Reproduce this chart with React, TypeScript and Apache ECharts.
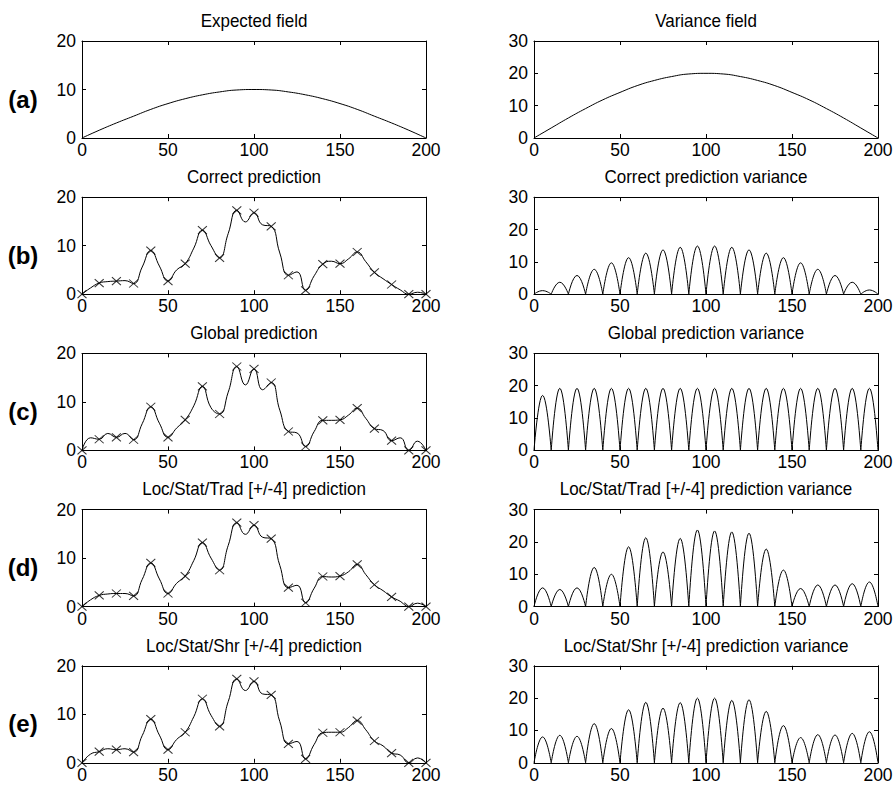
import React, { useEffect, useRef } from 'react';
import * as echarts from 'echarts';

// ---------- data ----------
const obsX = [0, 10, 20, 30, 40, 50, 60, 70, 80, 90, 100, 110, 120, 130, 140, 150, 160, 170, 180, 190, 200];
const midX = [5, 15, 25, 35, 45, 55, 65, 75, 85, 95, 105, 115, 125, 135, 145, 155, 165, 175, 185, 195];

// observed values (x markers), same in all prediction panels
const obsVals = [0, 2.3, 2.7, 2.2, 9.0, 2.7, 6.3, 13.2, 7.5, 17.3, 16.8, 14.0, 3.9, 0.8, 6.2, 6.3, 8.7, 4.5, 2.0, 0.0, 0.0];

// expected field / variance field (at obsX)
const expectedField = [0, 1.6, 3.1, 4.5, 5.9, 7.1, 8.1, 8.9, 9.5, 9.9, 10, 9.9, 9.5, 8.9, 8.1, 7.1, 5.9, 4.5, 3.1, 1.6, 0];
const varianceField = [0, 3.1, 6.2, 9.1, 11.8, 14.1, 16.2, 17.8, 19.0, 19.8, 20, 19.8, 19.0, 17.8, 16.2, 14.1, 11.8, 9.1, 6.2, 3.1, 0];

// prediction curve values at midpoints (midX)
const correctMid = [1.3, 2.6, 2.8, 5.6, 5.8, 5.0, 9.5, 10.0, 12.5, 14.9, 14.3, 8.5, 4.6, 3.8, 6.8, 7.3, 6.7, 3.2, 0.9, 0.4];
const globalMid = [2.6, 3.5, 3.5, 5.5, 5.6, 4.6, 9.2, 8.8, 12.0, 13.5, 12.5, 8.3, 3.6, 3.9, 6.2, 7.3, 6.6, 4.1, 2.6, 1.9];
const tradMid = [1.4, 2.6, 2.7, 5.6, 5.7, 4.8, 9.5, 10.0, 12.6, 14.9, 14.3, 8.5, 4.4, 3.8, 6.1, 7.2, 6.6, 3.3, 1.1, 0.7];
const shrMid = [1.8, 2.9, 2.9, 5.6, 5.7, 4.8, 9.5, 9.8, 12.6, 14.9, 14.2, 8.5, 4.4, 3.8, 6.3, 7.3, 6.8, 3.5, 1.6, 1.0];

// prediction variance peaks at midpoints (zero at observed points)
const correctVarPeaks = [1.1, 3.7, 5.8, 7.7, 9.7, 11.3, 12.7, 13.7, 14.5, 14.9, 14.9, 14.5, 13.7, 12.7, 11.3, 9.7, 7.7, 5.8, 3.7, 1.3];
const globalVarPeaks = [17.0, 19.2, 19.2, 19.2, 19.2, 19.2, 19.2, 19.2, 19.2, 19.2, 19.2, 19.2, 19.2, 19.2, 19.2, 19.2, 19.2, 19.2, 19.2, 19.2];
const tradVarPeaks = [5.8, 5.3, 5.8, 12.1, 10.0, 18.5, 21.3, 16.9, 21.1, 23.7, 23.4, 23.1, 22.7, 17.8, 11.3, 5.6, 6.7, 6.7, 7.1, 7.6];
const shrVarPeaks = [8.0, 8.5, 8.2, 12.1, 10.6, 16.4, 18.7, 16.9, 18.6, 20.0, 20.0, 19.3, 19.5, 15.9, 11.5, 7.8, 8.7, 8.6, 9.1, 9.6];

const panelLabels = ['(a)', '(b)', '(c)', '(d)', '(e)'];
const leftTitles = [
  'Expected field',
  'Correct prediction',
  'Global prediction',
  'Loc/Stat/Trad [+/-4] prediction',
  'Loc/Stat/Shr [+/-4] prediction',
];
const rightTitles = [
  'Variance field',
  'Correct prediction variance',
  'Global prediction variance',
  'Loc/Stat/Trad [+/-4] prediction variance',
  'Loc/Stat/Shr [+/-4] prediction variance',
];
const leftYMax = 20;
const rightYMax = 30;
const xMax = 200;

// ---------- layout ----------
const TOPS = [41, 197.2, 353.4, 509.6, 665.8];
const H = 97;
const LEFTS = [82, 534];
const W = 344;
const FONT = "'Liberation Sans', Arial, Helvetica, sans-serif";
const X_SYMBOL = 'path://M0,0L10,10M10,0L0,10';

function curveData(mids: number[]) {
  const d: (number | string)[][] = [];
  for (let i = 0; i < midX.length; i++) {
    d.push([obsX[i], obsVals[i]]);
    d.push([midX[i], mids[i]]);
  }
  d.push([obsX[obsX.length - 1], obsVals[obsVals.length - 1]]);
  return d;
}

function fieldData(vals: number[]) {
  return obsX.map((x, i) => [x, vals[i]]);
}

function archData(peaks: number[]) {
  const d: (number | string)[][] = [];
  for (let i = 0; i < peaks.length; i++) {
    d.push([obsX[i], 0], [midX[i], peaks[i]], [obsX[i + 1], 0], [obsX[i + 1], '-']);
  }
  return d;
}

function buildOption() {
  const grid: any[] = [];
  const xAxis: any[] = [];
  const yAxis: any[] = [];
  const series: any[] = [];
  const graphic: any[] = [];

  const leftData = [
    { line: fieldData(expectedField), marks: false },
    { line: curveData(correctMid), marks: true },
    { line: curveData(globalMid), marks: true },
    { line: curveData(tradMid), marks: true },
    { line: curveData(shrMid), marks: true },
  ];
  const rightData = [
    { line: fieldData(varianceField), marks: false },
    { line: archData(correctVarPeaks), marks: false },
    { line: archData(globalVarPeaks), marks: false },
    { line: archData(tradVarPeaks), marks: false },
    { line: archData(shrVarPeaks), marks: false },
  ];

  const axisLine = { show: true, onZero: false, lineStyle: { color: '#000', width: 1 } };
  const axisTick = { show: true, inside: true, length: 4, lineStyle: { color: '#000', width: 1 } };
  const label = { color: '#000', fontSize: 17.5, fontFamily: FONT };

  for (let r = 0; r < 5; r++) {
    for (let c = 0; c < 2; c++) {
      const g = r * 2 + c;
      grid.push({ left: LEFTS[c], top: TOPS[r], width: W, height: H, containLabel: false });
      const yMax = c === 0 ? leftYMax : rightYMax;
      xAxis.push({
        gridIndex: g, type: 'value', min: 0, max: xMax, interval: 50, position: 'bottom',
        axisLine, axisTick, splitLine: { show: false },
        axisLabel: { ...label, margin: 3 },
      });
      xAxis.push({
        gridIndex: g, type: 'value', min: 0, max: xMax, interval: 50, position: 'top',
        axisLine, axisTick, splitLine: { show: false }, axisLabel: { show: false },
      });
      yAxis.push({
        gridIndex: g, type: 'value', min: 0, max: yMax, interval: 10, position: 'left',
        axisLine, axisTick, splitLine: { show: false },
        axisLabel: { ...label, margin: 6 },
      });
      yAxis.push({
        gridIndex: g, type: 'value', min: 0, max: yMax, interval: 10, position: 'right',
        axisLine, axisTick, splitLine: { show: false }, axisLabel: { show: false },
      });

      const d = c === 0 ? leftData[r] : rightData[r];
      series.push({
        type: 'line', xAxisIndex: 2 * g, yAxisIndex: 2 * g, data: d.line,
        smooth: 0.5, showSymbol: false, symbol: 'none', connectNulls: false,
        lineStyle: { color: '#000', width: 1 }, silent: true, clip: false, z: 2,
      });
      if (d.marks) {
        series.push({
          type: 'scatter', xAxisIndex: 2 * g, yAxisIndex: 2 * g,
          data: obsX.map((x, i) => [x, obsVals[i]]),
          symbol: X_SYMBOL, symbolSize: [9, 8],
          itemStyle: { color: 'rgba(0,0,0,0)', borderColor: '#000', borderWidth: 1 },
          silent: true, clip: false, z: 3,
        });
      }

      graphic.push({
        type: 'text', x: LEFTS[c] + W / 2, y: TOPS[r] - 20.5, scaleY: 1.1, silent: true,
        style: {
          text: c === 0 ? leftTitles[r] : rightTitles[r],
          fill: '#000', font: `17px ${FONT}`,
          textAlign: 'center', textVerticalAlign: 'middle', align: 'center', verticalAlign: 'middle',
        },
      });
    }
    graphic.push({
      type: 'text', x: 23, y: TOPS[r] + H / 2 + 9.5, silent: true,
      style: {
        text: panelLabels[r], fill: '#000', font: `bold 24px ${FONT}`,
        textAlign: 'center', textVerticalAlign: 'middle', align: 'center', verticalAlign: 'middle',
      },
    });
  }

  return {
    animation: false,
    backgroundColor: '#fff',
    grid, xAxis, yAxis, series, graphic,
  };
}

export default function App() {
  const ref = useRef<HTMLDivElement>(null);
  useEffect(() => {
    if (!ref.current) return;
    const chart = echarts.init(ref.current, null, { renderer: 'svg' });
    chart.setOption(buildOption() as any);
    return () => chart.dispose();
  }, []);
  return (
    <div
      ref={ref}
      style={{ position: 'absolute', left: 0, top: 0, width: 896, height: 793, background: '#fff' }}
    />
  );
}
